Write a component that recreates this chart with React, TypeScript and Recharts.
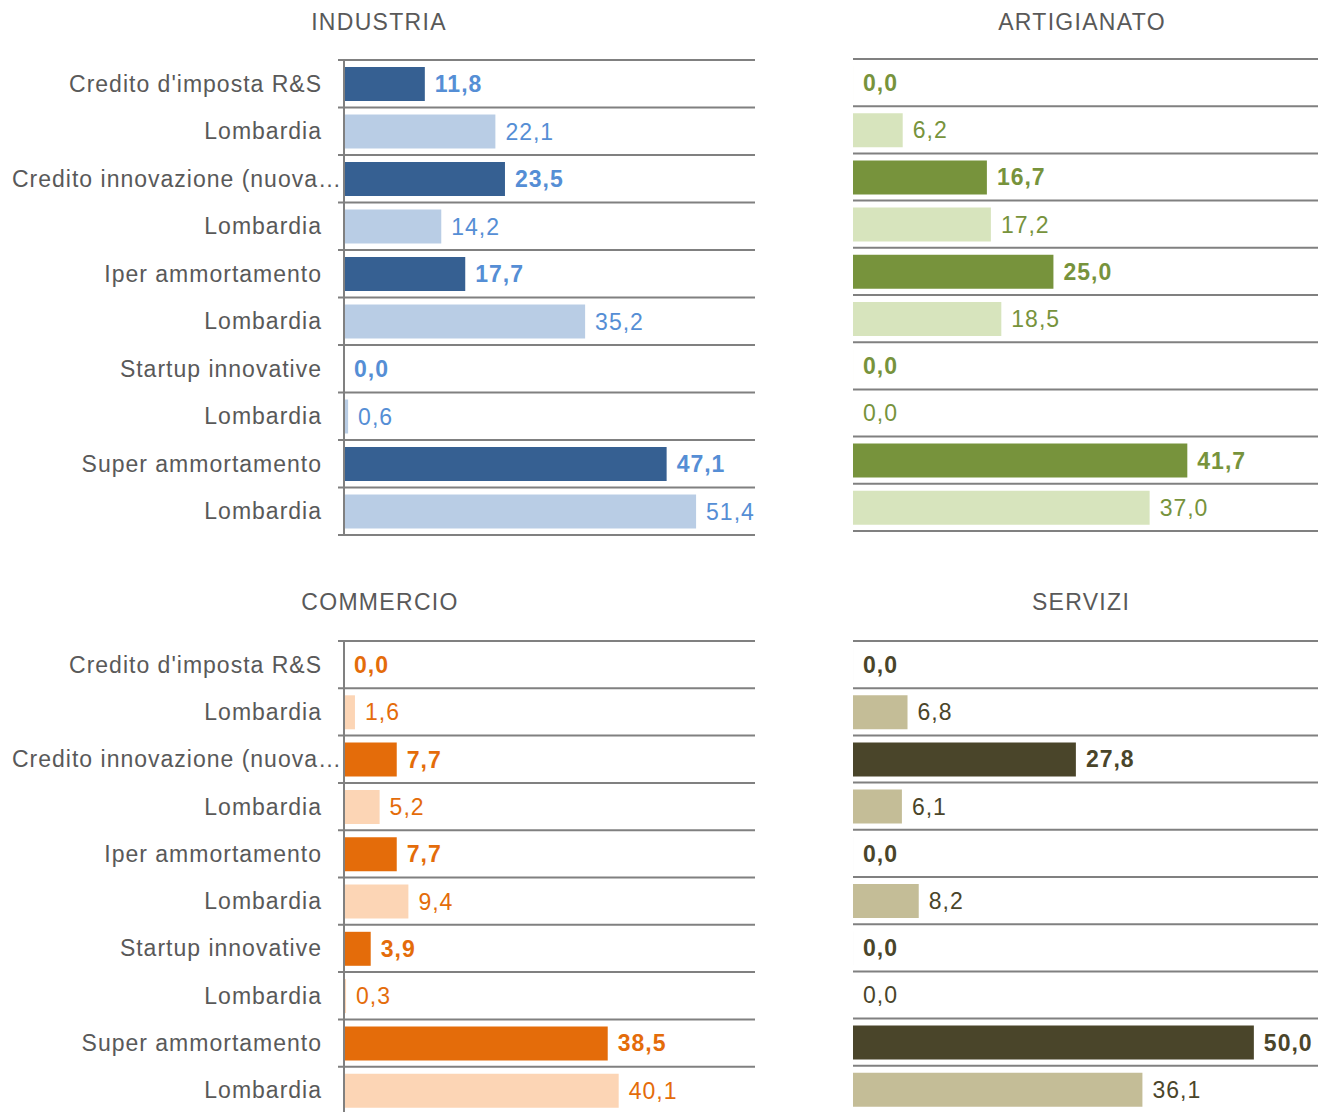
import React from "react";
import { BarChart, Bar, XAxis, YAxis, CartesianGrid, Cell, LabelList } from "recharts";

const CATEGORIES = [
  "Credito d'imposta R&S",
  "Lombardia",
  "Credito innovazione (nuova…",
  "Lombardia",
  "Iper ammortamento",
  "Lombardia",
  "Startup innovative",
  "Lombardia",
  "Super ammortamento",
  "Lombardia",
];

const INDUSTRIA = [11.8, 22.1, 23.5, 14.2, 17.7, 35.2, 0.0, 0.6, 47.1, 51.4];
const ARTIGIANATO = [0.0, 6.2, 16.7, 17.2, 25.0, 18.5, 0.0, 0.0, 41.7, 37.0];
const COMMERCIO = [0.0, 1.6, 7.7, 5.2, 7.7, 9.4, 3.9, 0.3, 38.5, 40.1];
const SERVIZI = [0.0, 6.8, 27.8, 6.1, 0.0, 8.2, 0.0, 0.0, 50.0, 36.1];

const FONT = "'Liberation Sans', Arial, sans-serif";
const GRID = "#808080";
const TEXT = "#595959";

const fmt = (v: number) => v.toFixed(1).replace(".", ",");

type PanelProps = {
  title: string;
  values: number[];
  dark: string;
  light: string;
  labelColor: string;
  lightLabelColor: string;
  showAxis: boolean;
  left: number;
  top: number;
  width: number;
  height: number;
  margin: { top: number; right: number; bottom: number; left: number };
  domainMax: number;
  titleX: number;
  titleY: number;
};

const AXIS_W = 344;

const CategoryTick = (props: any) => {
  const { x, y, payload } = props;
  const label = CATEGORIES[Number(payload.value)];
  const long = label.length > 24;
  return (
    <text
      x={long ? x + 6 : x - 14}
      y={y}
      textAnchor="end"
      dominantBaseline="central"
      fill={TEXT}
      fontSize={23}
      fontFamily={FONT}
      letterSpacing={1}
    >
      {label}
    </text>
  );
};

function Panel(p: PanelProps) {
  const data = p.values.map((v, i) => ({ id: String(i), value: v, tag: String(i) }));
  const n = data.length;
  const plotW = p.width - p.margin.left - p.margin.right - (p.showAxis ? AXIS_W : 0);
  const gridX = p.showAxis ? p.margin.left + AXIS_W - 6 : p.margin.left;
  const gridW = p.showAxis ? plotW + 6 : plotW;

  const renderLabel = (lp: any) => {
    const { x, y, width, height, value } = lp;
    const idx = Number(value);
    const isDark = idx % 2 === 0;
    return (
      <text
        x={Number(x) + Number(width) + 10}
        y={Number(y) + Number(height) / 2}
        dominantBaseline="central"
        fill={isDark ? p.labelColor : p.lightLabelColor}
        fontWeight={isDark ? "bold" : "normal"}
        fontSize={23}
        fontFamily={FONT}
        letterSpacing={1}
      >
        {fmt(p.values[idx])}
      </text>
    );
  };

  return (
    <>
      <div
        style={{
          position: "absolute",
          left: p.titleX - 200,
          top: p.titleY - 15,
          width: 400,
          lineHeight: "30px",
          textAlign: "center",
          fontFamily: FONT,
          fontSize: 23,
          letterSpacing: 1.3,
          color: TEXT,
        }}
      >
        {p.title}
      </div>
      <div style={{ position: "absolute", left: p.left, top: p.top }}>
        <BarChart
          width={p.width}
          height={p.height}
          data={data}
          layout="vertical"
          margin={p.margin}
          barSize={34}
        >
          <CartesianGrid
            vertical={false}
            stroke={GRID}
            strokeWidth={2}
            x={gridX}
            width={gridW}
            horizontalCoordinatesGenerator={(gp: any) =>
              Array.from({ length: n + 1 }, (_, i) => gp.offset.top + (i * gp.offset.height) / n)
            }
          />
          <XAxis type="number" domain={[0, p.domainMax]} hide />
          <YAxis
            type="category"
            dataKey="id"
            hide={!p.showAxis}
            width={AXIS_W}
            tickLine={false}
            axisLine={{ stroke: GRID, strokeWidth: 2 }}
            tick={<CategoryTick />}
            interval={0}
          />
          <Bar dataKey="value" isAnimationActive={false} minPointSize={0.01}>
            {data.map((d, i) => (
              <Cell key={d.id} fill={i % 2 === 0 ? p.dark : p.light} />
            ))}
            <LabelList dataKey="tag" content={renderLabel} />
          </Bar>
        </BarChart>
      </div>
    </>
  );
}

export default function App() {
  return (
    <div
      style={{
        position: "absolute",
        left: 0,
        top: 0,
        width: 1318,
        height: 1112,
        overflow: "hidden",
        background: "#ffffff",
      }}
    >
      <Panel
        title="INDUSTRIA"
        values={INDUSTRIA}
        dark="#366092"
        light="#B9CDE5"
        labelColor="#558ED5"
        lightLabelColor="#558ED5"
        showAxis={true}
        left={0}
        top={0}
        width={760}
        height={545}
        margin={{ top: 60, right: 5, bottom: 10, left: 0 }}
        domainMax={60}
        titleX={379}
        titleY={22}
      />
      <Panel
        title="ARTIGIANATO"
        values={ARTIGIANATO}
        dark="#77933C"
        light="#D7E4BD"
        labelColor="#77933C"
        lightLabelColor="#77933C"
        showAxis={false}
        left={853}
        top={0}
        width={465}
        height={545}
        margin={{ top: 59, right: 0, bottom: 14, left: 0 }}
        domainMax={58}
        titleX={1082}
        titleY={22}
      />
      <Panel
        title="COMMERCIO"
        values={COMMERCIO}
        dark="#E46C0A"
        light="#FCD5B5"
        labelColor="#E46C0A"
        lightLabelColor="#E46C0A"
        showAxis={true}
        left={0}
        top={580}
        width={760}
        height={540}
        margin={{ top: 61, right: 5, bottom: 6, left: 0 }}
        domainMax={60}
        titleX={380}
        titleY={602}
      />
      <Panel
        title="SERVIZI"
        values={SERVIZI}
        dark="#4A452A"
        light="#C4BD97"
        labelColor="#4A452A"
        lightLabelColor="#4A452A"
        showAxis={false}
        left={853}
        top={580}
        width={465}
        height={540}
        margin={{ top: 61, right: 0, bottom: 7, left: 0 }}
        domainMax={58}
        titleX={1081}
        titleY={602}
      />
    </div>
  );
}
